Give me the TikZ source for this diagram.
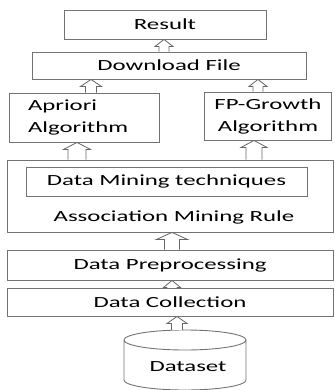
\documentclass[tikz,border=0pt]{standalone}
\usepackage{fontspec}
\setmainfont{Carlito}[FakeStretch=1.6]
\usetikzlibrary{positioning,calc}

% hollow up arrow: x, lower node anchor, upper node anchor, head half width, stem half width
\newcommand{\hollowup}[5]{%
	\path (#1,0 |- #3) coordinate (tip) (#1,0 |- #2) coordinate (foot);
	\draw[hollow] ($(foot)+(-#5,0)$) -- ($(tip)+(-#5,7)$) -- ($(tip)+(-#4,7)$) -- (tip)
		-- ($(tip)+(#4,7)$) -- ($(tip)+(#5,7)$) -- ($(foot)+(#5,0)$);
}

\begin{document}
\begin{tikzpicture}[x=1pt, y=-1pt,
				box/.style={rectangle, draw=black!55, line width=0.9pt, inner sep=0pt, align=center,
					font=\fontsize{15.5}{22}\selectfont},
				caption/.style={rectangle, inner sep=0pt, font=\fontsize{15.5}{22}\selectfont},
				hollow/.style={draw=black!60, fill=white, line width=0.8pt, line join=miter}
			]
			\useasboundingbox (0,0) rectangle (334,390);
			\node[box, minimum width=202, minimum height=29] (result) at (165,24.5) {Result};
			\node[box, minimum width=274, minimum height=27] (download) at (169,65.5) {Download File};
			\node[box, minimum width=150, minimum height=49, text width=112, inner xsep=19, align=left] (apriori) at (84,117.5) {Apriori\\Algorithm};
			\node[box, minimum width=127, minimum height=48, text width=120] (fpgrowth) at (268,116) {FP-Growth\\Algorithm};
			\node[box, minimum width=326, minimum height=72] (assoc) at (170,196) {};
			\node[box, minimum width=281, minimum height=29] (techniques) at (166.5,181.5) {Data Mining techniques};
			\node[caption] (rule) at (174,217) {Association Mining Rule};
			\node[box, minimum width=326, minimum height=30] (preproc) at (170,265) {Data Preprocessing};
			\node[box, minimum width=326, minimum height=28] (collect) at (170,302) {Data Collection};
			% dataset drum
			\coordinate (dstop) at (185,330);
			\draw[draw=black!55, line width=0.9pt] (124,340) arc[start angle=180, end angle=540, x radius=61, y radius=10]
				(246,340) -- (246,380) arc[start angle=0, end angle=180, x radius=61, y radius=10] -- (124,340);
			\node[caption] (dataset) at (188,367) {Dataset};
			\hollowup{164}{download.north}{result.south}{9}{5}
			\hollowup{91}{apriori.north}{download.south}{10.5}{5.5}
			\hollowup{258}{fpgrowth.north}{download.south}{9}{5}
			\hollowup{77}{assoc.north}{apriori.south}{13.5}{9}
			\hollowup{254}{assoc.north}{fpgrowth.south}{13}{8}
			\hollowup{172}{preproc.north}{assoc.south}{15.5}{7.5}
			\hollowup{172}{collect.north}{preproc.south}{8.5}{5}
			\hollowup{177}{dstop}{collect.south}{10}{5.5}
			\end{tikzpicture}
\end{document}
